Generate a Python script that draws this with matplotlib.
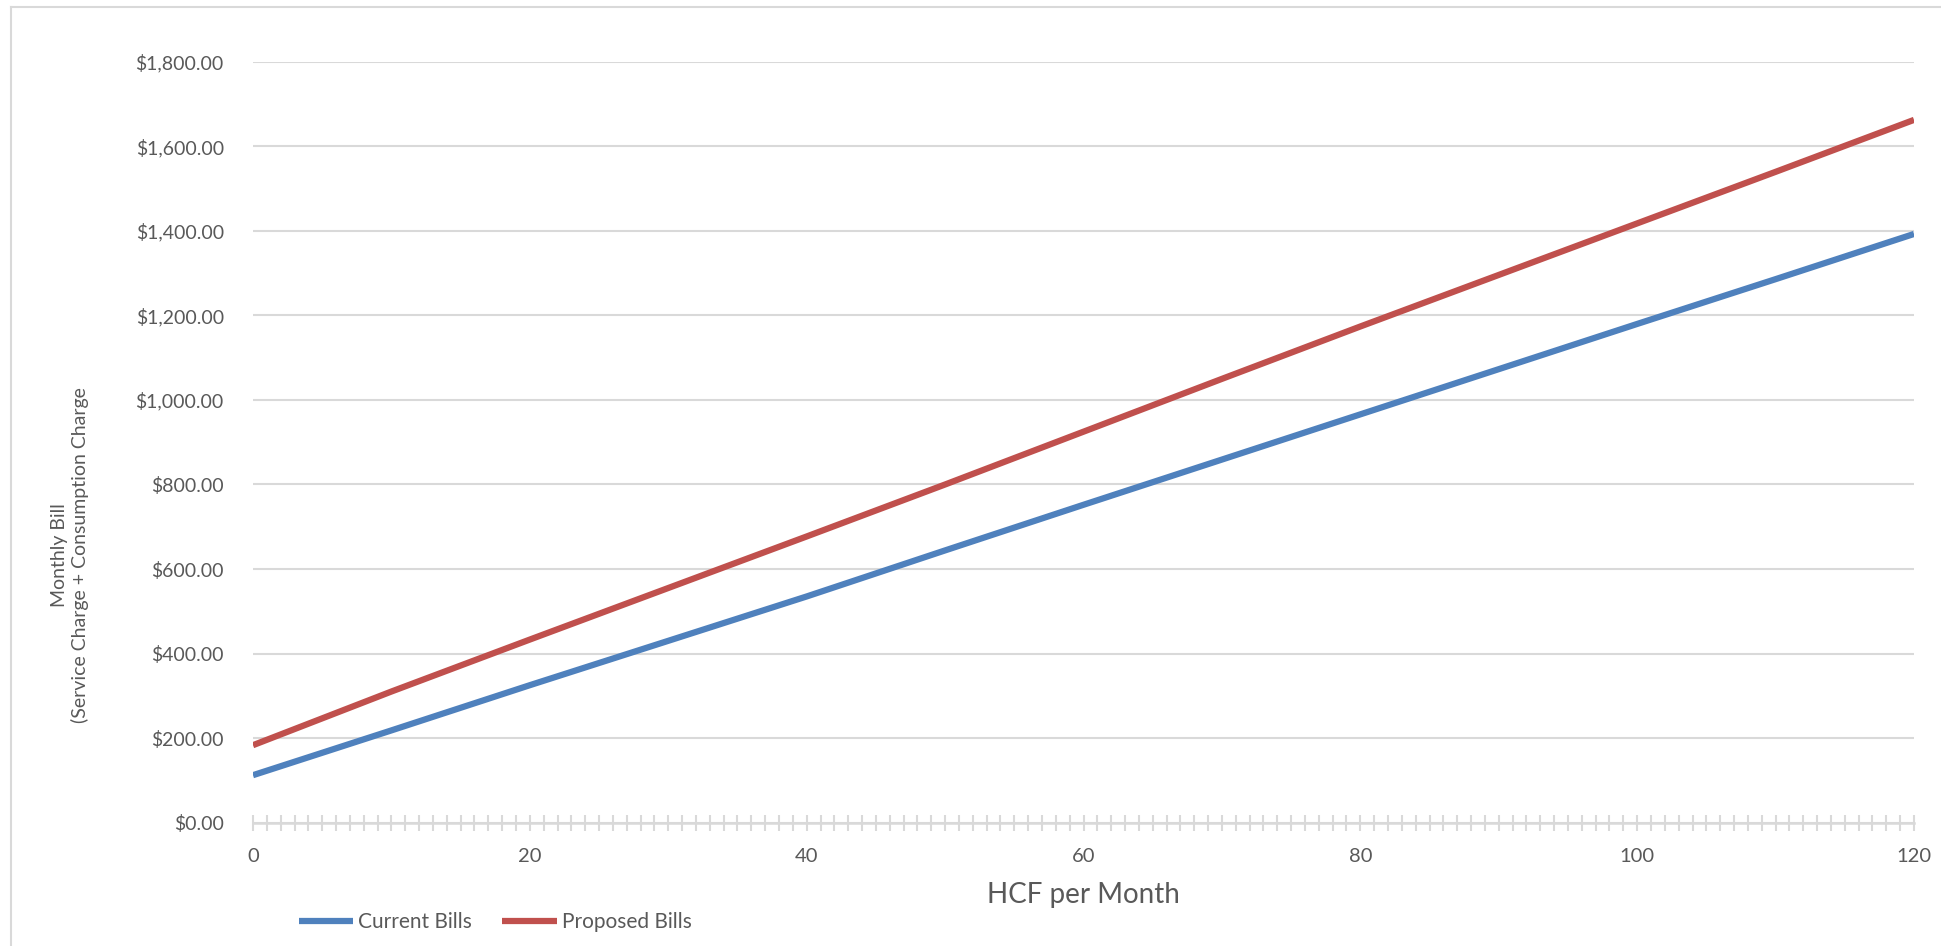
import matplotlib
matplotlib.use("Agg")
import matplotlib.pyplot as plt
from matplotlib.lines import Line2D
from matplotlib.ticker import MultipleLocator, StrMethodFormatter

plt.rcParams['font.family'] = ['Lato', 'DejaVu Sans']

# values (every 10 HCF)
hcf = [0, 10, 20, 30, 40, 50, 60, 70, 80, 90, 100, 110, 120]
current_bills = [112, 218, 325, 430, 535, 644, 752, 859, 966, 1073, 1180, 1286, 1393]
proposed_bills = [183, 310, 433, 555, 677, 800, 925, 1050, 1174, 1296, 1418, 1540, 1663]

y_ticks = [0, 200, 400, 600, 800, 1000, 1200, 1400, 1600, 1800]
x_ticks = [0, 20, 40, 60, 80, 100, 120]

blue = '#4f81bd'
red = '#c0504d'
grey = '#d9d9d9'
text_col = '#595959'

W, H = 1941, 946
fig = plt.figure(figsize=(W / 100, H / 100), dpi=100)
ax = fig.add_axes([253 / W, 1 - 822.5 / H, (1914 - 253) / W, (822.5 - 62) / H])

ax.plot(hcf, current_bills, color=blue, lw=4.5, solid_capstyle='butt', label='Current Bills')
ax.plot(hcf, proposed_bills, color=red, lw=4.5, solid_capstyle='butt', label='Proposed Bills')

ax.set_xlim(0, 120)
ax.set_ylim(0, 1800)
ax.set_yticks(y_ticks)
ax.set_xticks(x_ticks)
ax.xaxis.set_minor_locator(MultipleLocator(1))
ax.yaxis.set_major_formatter(StrMethodFormatter('${x:,.2f}'))

ax.grid(axis='y', color=grey, lw=1.5)
ax.set_axisbelow(True)
for s in ['top', 'right', 'left']:
    ax.spines[s].set_visible(False)
ax.spines['bottom'].set_color(grey)
ax.spines['bottom'].set_linewidth(1.8)
ax.spines['bottom'].set_zorder(0.5)

ax.tick_params(axis='y', length=0, pad=21, labelsize=14, labelcolor=text_col)
ax.tick_params(axis='x', which='both', direction='inout', length=11, width=1.5,
               color=grey, labelsize=14.5, labelcolor=text_col, pad=13)

ax.set_xlabel('HCF per Month', fontsize=20, color=text_col, labelpad=12)
fig.text(70 / W, 1 - 555 / H, 'Monthly Bill\n(Service Charge + Consumption Charge',
         rotation=90, ha='center', va='center', fontsize=14, color=text_col,
         multialignment='center')

leg = fig.legend(loc='center left', bbox_to_anchor=(299 / W, 1 - 922 / H), ncol=2,
                 frameon=False, fontsize=15, handlelength=2.6, handletextpad=0.25,
                 columnspacing=1.45, borderpad=0, borderaxespad=0)
for t in leg.get_texts():
    t.set_color(text_col)

# chart frame (left and top edges are visible in the reference)
fig.add_artist(Line2D([11 / W, 11 / W], [0, 1 - 7 / H], color=grey, lw=1.5))
fig.add_artist(Line2D([11 / W, 1], [1 - 7 / H, 1 - 7 / H], color=grey, lw=1.5))

fig.savefig('out.png', dpi=100)
